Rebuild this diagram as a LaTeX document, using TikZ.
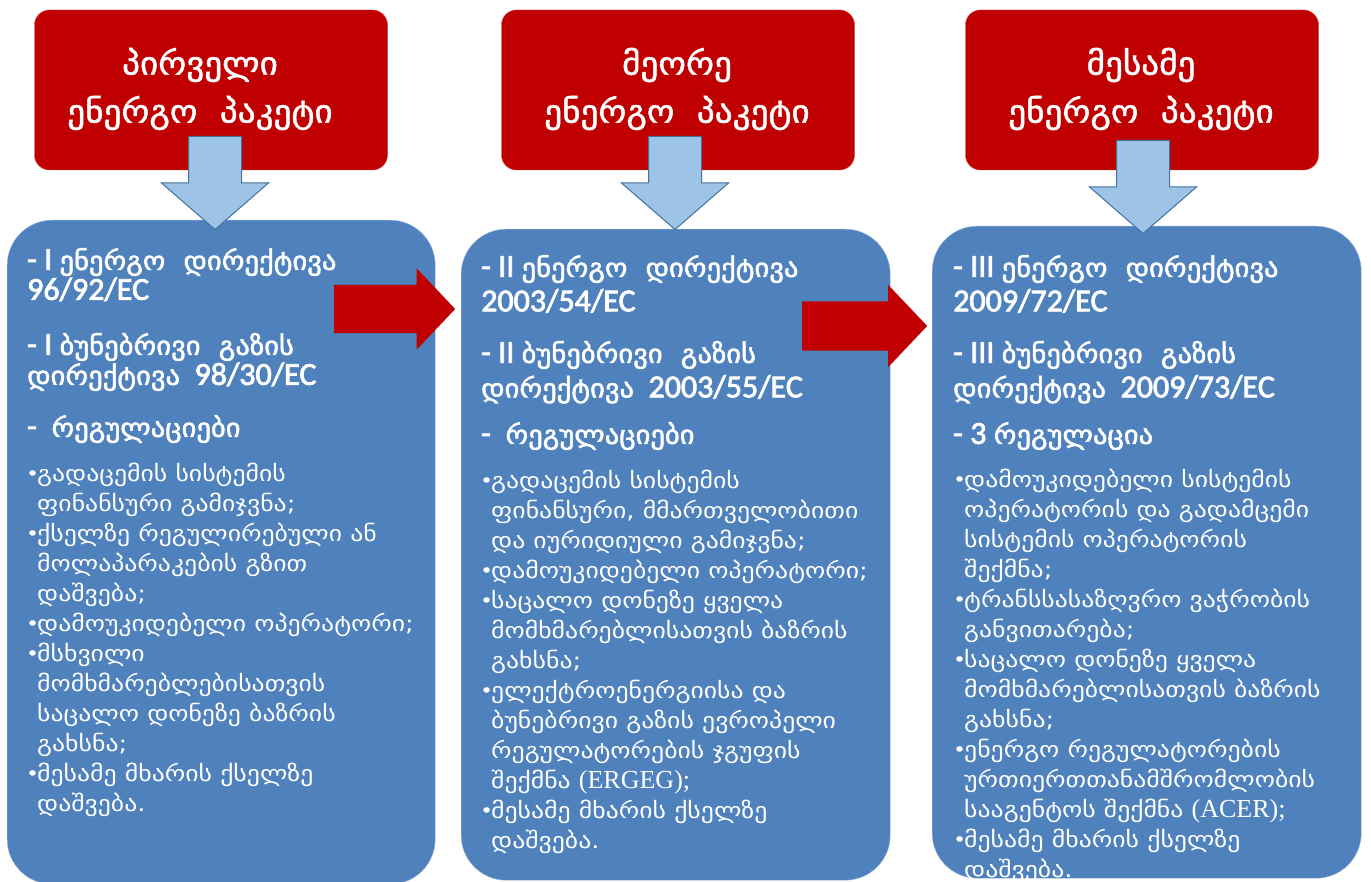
\documentclass[tikz,border=0pt]{standalone}
\usepackage{fontspec}
\setmainfont{Carlito}
\newfontfamily\latb{Carlito}[FakeBold=2.4]
\newfontfamily\geo[FakeStretch=1.17]{DejaVu Sans}
\newfontfamily\geohead[FakeBold=2,FakeStretch=1.1]{DejaVu Sans}
\newfontfamily\geotitle[FakeBold=1.5,FakeStretch=1.1]{DejaVu Sans}
\newfontfamily\tnr{Liberation Serif}
\usetikzlibrary{shapes.arrows}
\usetikzlibrary{positioning}
\definecolor{pktred}{RGB}{192,0,0}
\definecolor{boxblue}{RGB}{79,129,189}
\definecolor{arrowblue}{RGB}{157,195,230}
\definecolor{arrowedge}{RGB}{65,113,156}
\tikzstyle{packet}=[rectangle,rounded corners=15pt,fill=pktred,draw=pktred!75!white,minimum width=353pt,minimum height=160pt,inner sep=0pt]
\tikzstyle{title}=[text=white,align=center,inner sep=0pt,font=\geotitle\fontsize{32}{48}\selectfont]
\tikzstyle{stage}=[rectangle,rounded corners=45pt,fill=boxblue,draw=boxblue!60!white,anchor=north west]
\tikzstyle{downarrow}=[single arrow,rotate=-90,fill=arrowblue,draw=arrowedge,line width=1pt,minimum width=106pt,minimum height=93pt,single arrow head extend=27pt,single arrow tip angle=98,inner xsep=0pt,inner ysep=26pt,anchor=tail]
\tikzstyle{nextarrow}=[single arrow,fill=pktred,minimum width=81pt,minimum height=121pt,single arrow head extend=16.5pt,single arrow tip angle=93,inner xsep=0pt,inner ysep=24pt,anchor=tail]
\tikzstyle{heading}=[text=white,font=\latb\fontsize{32}{30}\selectfont,align=left,anchor=north west,inner sep=0pt]
\tikzstyle{bullets}=[text=white,font=\geo\fontsize{22}{30}\selectfont,align=left,anchor=north west,inner sep=0pt]
\newcommand\gh[1]{{\geohead\fontsize{26}{30}\selectfont #1}}
\newcommand\lat[1]{{\tnr\fontsize{26}{30}\selectfont #1}}
\newcommand\itm{\makebox[10pt][l]{\hspace*{-1pt}\fontsize{19}{30}\selectfont\raisebox{1.5pt}{•}}}
\newcommand\ind{\hspace*{10pt}}

\begin{document}
\begin{tikzpicture}[x=1pt,y=-1pt]
    \useasboundingbox (0,0) rectangle (1371,882);
    % the three packets on top
    \foreach \pos/\name in {{(211,90)/P1}, {(678,90)/P2}, {(1142,90)/P3}}
        \node[packet] (\name) at \pos {};
    \foreach \pos/\name/\label in {{(200,89)/T1/პირველი}, {(677,89)/T2/მეორე}, {(1141,89)/T3/მესამე}}
        \node[title] (\name) at \pos {\label\\ენერგო\ \ პაკეტი};

    % blue boxes with the directives
    \node[stage] (S1) at (7,220) [minimum width=428pt,minimum height=664pt] {};
    \node[stage] (S2) at (461,229) [minimum width=429pt,minimum height=651pt] {};
    \node[stage] (S3) at (932,226) [minimum width=429pt,minimum height=652pt] {};

    % arrows from packet to box and from box to box
    \foreach \pos/\name in {{(215,136)/D1}, {(675,136)/D2}, {(1143,140)/D3}}
        \node[downarrow] (\name) at \pos {};
    \node[nextarrow] (N1) at (334,309) {};
    \node[nextarrow] (N2) at (802,326) [minimum height=125pt,inner ysep=24.5pt] {};

    % first package
    \node[heading] (H1) at (27,248) {- I \gh{ენერგო\ \ დირექტივა}\\96/92/EC\\[25pt]
        - I \gh{ბუნებრივი\ \ გაზის}\\\gh{დირექტივა}\ \ 98/30/EC\\[22pt]
        -\ \ \gh{რეგულაციები}};
    \node[bullets] (L1) at (27,463) {\itm გადაცემის სისტემის\\
        \ind ფინანსური გამიჯვნა;\\
        \itm ქსელზე რეგულირებული ან\\
        \ind მოლაპარაკების გზით\\
        \ind დაშვება;\\
        \itm დამოუკიდებელი ოპერატორი;\\
        \itm მსხვილი\\
        \ind მომხმარებლებისათვის\\
        \ind საცალო დონეზე ბაზრის\\
        \ind გახსნა;\\
        \itm მესამე მხარის ქსელზე\\
        \ind დაშვება.};

    % second package
    \node[heading] (H2) at (481,255) [font=\latb\fontsize{32}{34.5}\selectfont] {- II \gh{ენერგო\ \ დირექტივა}\\2003/54/EC\\[17pt]
        - II \gh{ბუნებრივი\ \ გაზის}\\\gh{დირექტივა}\ \ 2003/55/EC\\[12pt]
        -\ \ \gh{რეგულაციები}};
    \node[bullets] (L2) at (481,470) {\itm გადაცემის სისტემის\\
        \ind ფინანსური, მმართველობითი\\
        \ind და იურიდიული გამიჯვნა;\\
        \itm დამოუკიდებელი ოპერატორი;\\
        \itm საცალო დონეზე ყველა\\
        \ind მომხმარებლისათვის ბაზრის\\
        \ind გახსნა;\\
        \itm ელექტროენერგიისა და\\
        \ind ბუნებრივი გაზის ევროპელი\\
        \ind რეგულატორების ჯგუფის\\
        \ind შექმნა \lat{(ERGEG);}\\
        \itm მესამე მხარის ქსელზე\\
        \ind დაშვება.};

    % third package
    \node[heading] (H3) at (953,255) [font=\latb\fontsize{32}{34.5}\selectfont] {- III \gh{ენერგო\ \ დირექტივა}\\2009/72/EC\\[17pt]
        - III \gh{ბუნებრივი\ \ გაზის}\\\gh{დირექტივა}\ \ 2009/73/EC\\[12pt]
        - 3 \gh{რეგულაცია}};
    \node[bullets] (L3) at (954,469) {\itm დამოუკიდებელი სისტემის\\
        \ind ოპერატორის და გადამცემი\\
        \ind სისტემის ოპერატორის\\
        \ind შექმნა;\\
        \itm ტრანსსასაზღვრო ვაჭრობის\\
        \ind განვითარება;\\
        \itm საცალო დონეზე ყველა\\
        \ind მომხმარებლისათვის ბაზრის\\
        \ind გახსნა;\\
        \itm ენერგო რეგულატორების\\
        \ind ურთიერთთანამშრომლობის\\
        \ind სააგენტოს შექმნა \lat{(ACER);}\\
        \itm მესამე მხარის ქსელზე\\
        \ind დაშვება.};
\end{tikzpicture}
\end{document}
